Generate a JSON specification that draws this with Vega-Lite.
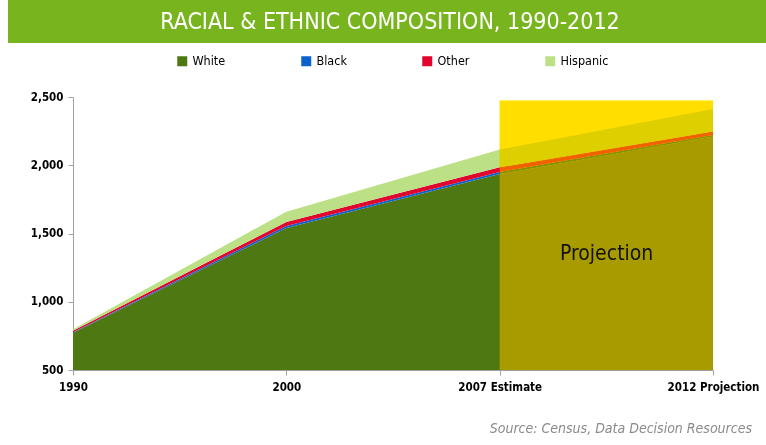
{
  "$schema": "https://vega.github.io/schema/vega-lite/v6.json",
  "padding": {"left": 8, "top": 0, "right": 0, "bottom": 0},
  "background": "white",
  "spacing": 48,
  "config": {
    "font": "DejaVu Sans Condensed, Liberation Sans Narrow, Liberation Sans, sans-serif",
    "view": {"stroke": null}
  },
  "datasets": {
    "pop": [
      {"year": "1990", "group": "White", "value": 772},
      {"year": "1990", "group": "Black", "value": 5},
      {"year": "1990", "group": "Other", "value": 10},
      {"year": "1990", "group": "Hispanic", "value": 12},
      {"year": "2000", "group": "White", "value": 1540},
      {"year": "2000", "group": "Black", "value": 15},
      {"year": "2000", "group": "Other", "value": 30},
      {"year": "2000", "group": "Hispanic", "value": 75},
      {"year": "2007 Estimate", "group": "White", "value": 1935},
      {"year": "2007 Estimate", "group": "Black", "value": 15},
      {"year": "2007 Estimate", "group": "Other", "value": 35},
      {"year": "2007 Estimate", "group": "Hispanic", "value": 130},
      {"year": "2012 Projection", "group": "White", "value": 2210},
      {"year": "2012 Projection", "group": "Black", "value": 12},
      {"year": "2012 Projection", "group": "Other", "value": 25},
      {"year": "2012 Projection", "group": "Hispanic", "value": 165}
    ]
  },
  "vconcat": [
    {
      "width": 758,
      "height": 43,
      "view": {"fill": "#78B41E", "stroke": null},
      "data": {"values": [{"t": "RACIAL & ETHNIC COMPOSITION, 1990-2012"}]},
      "mark": {"type": "text", "color": "white", "fontSize": 23, "align": "center", "baseline": "middle", "dx": 3},
      "encoding": {"text": {"field": "t"}}
    },
    {
      "width": 758,
      "height": 273,
      "title": {
        "text": "Source: Census, Data Decision Resources",
        "orient": "bottom",
        "anchor": "end",
        "frame": "group",
        "dx": -14,
        "offset": 29,
        "fontSize": 14,
        "fontStyle": "italic",
        "fontWeight": "normal",
        "color": "#8a8a8a"
      },
      "layer": [
        {
          "data": {"name": "pop"},
          "transform": [
            {"calculate": "indexof(['White','Black','Other','Hispanic'], datum.group)", "as": "stackOrder"}
          ],
          "mark": {"type": "area", "clip": true, "interpolate": "linear"},
          "encoding": {
            "x": {
              "field": "year",
              "type": "ordinal",
              "scale": {"type": "point", "padding": 0, "range": [65, 705], "domain": ["1990", "2000", "2007 Estimate", "2012 Projection"]},
              "axis": {
                "title": null,
                "labelAngle": 0,
                "labelFontWeight": "bold",
                "labelFontSize": 11.5,
                "labelColor": "black",
                "domainColor": "#a0a0a0",
                "tickColor": "#a0a0a0",
                "tickSize": 5,
                "labelPadding": 6,
                "grid": false
              }
            },
            "y": {
              "field": "value",
              "type": "quantitative",
              "stack": "zero",
              "scale": {"domain": [500, 2500], "zero": false, "nice": false},
              "axis": {
                "title": null,
                "offset": -65,
                "values": [500, 1000, 1500, 2000, 2500],
                "format": ",d",
                "labelFontWeight": "bold",
                "labelFontSize": 11.5,
                "labelColor": "black",
                "domainColor": "#a0a0a0",
                "tickColor": "#a0a0a0",
                "tickSize": 5,
                "labelPadding": 5,
                "grid": false
              }
            },
            "order": {"field": "stackOrder", "type": "quantitative"},
            "color": {
              "field": "group",
              "type": "nominal",
              "scale": {"domain": ["White", "Black", "Other", "Hispanic"], "range": ["#4E7812", "#0A62CC", "#E0062E", "#BCE085"]},
              "legend": {
                "title": null,
                "orient": "none",
                "direction": "horizontal",
                "legendX": 168,
                "legendY": 55,
                "columns": 4,
                "symbolType": "square",
                "symbolSize": 100,
                "symbolStrokeWidth": 0,
                "symbolOpacity": 1,
                "labelFontSize": 12.5,
                "labelColor": "black",
                "labelOffset": 4,
                "columnPadding": 74,
                "gridAlign": "none"
              }
            }
          }
        },
        {
          "data": {"values": [{}]},
          "mark": {"type": "rect", "color": "#FFFF00", "blend": "multiply"},
          "encoding": {
            "x": {"datum": "2007 Estimate"},
            "x2": {"datum": "2012 Projection"},
            "y": {"datum": 500},
            "y2": {"datum": 2475}
          }
        },
        {
          "data": {"values": [{}]},
          "mark": {"type": "rect", "color": "#FFBE00", "opacity": 0.5},
          "encoding": {
            "x": {"datum": "2007 Estimate"},
            "x2": {"datum": "2012 Projection"},
            "y": {"datum": 500},
            "y2": {"datum": 2475}
          }
        },
        {
          "data": {"values": [{}]},
          "mark": {"type": "text", "text": "Projection", "fontSize": 21, "color": "#111", "align": "center", "baseline": "middle", "dx": 107},
          "encoding": {
            "x": {"datum": "2007 Estimate"},
            "y": {"datum": 1350}
          }
        }
      ]
    }
  ]
}
